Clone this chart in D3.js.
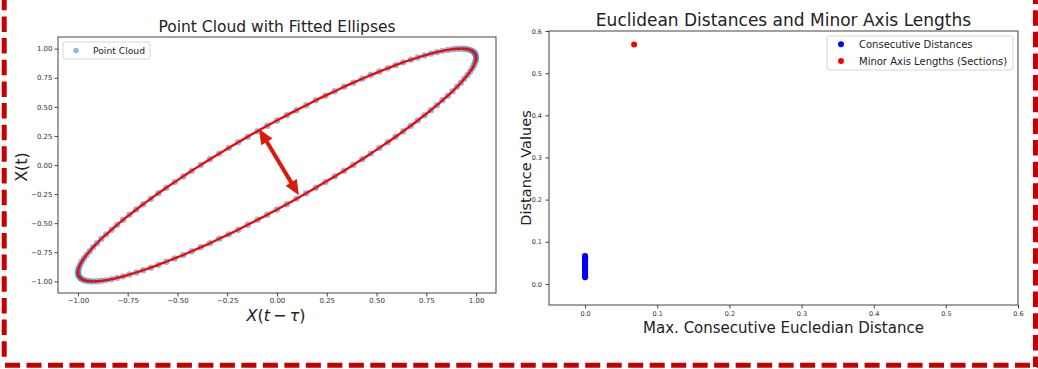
<!DOCTYPE html>
<html><head><meta charset="utf-8">
<script src="https://cdn.jsdelivr.net/npm/d3@7"></script>
<style>
html,body{margin:0;padding:0;background:#fff;}
svg{display:block;font-family:"DejaVu Sans",sans-serif;}
</style></head><body>
<svg id="c" width="1038" height="369"></svg>
<script>
// ---- data: left panel (delay embedding of the signal) ----
const signal = [
  0.000, 0.049, 0.098, 0.147, 0.195, 0.243, 0.290, 0.337, 0.383, 0.428, 0.471, 0.514, 0.556, 0.596, 0.634, 0.672,
  0.707, 0.741, 0.773, 0.803, 0.831, 0.858, 0.882, 0.904, 0.924, 0.941, 0.957, 0.970, 0.981, 0.989, 0.995, 0.999,
  1.000, 0.999, 0.995, 0.989, 0.981, 0.970, 0.957, 0.941, 0.924, 0.904, 0.882, 0.858, 0.831, 0.803, 0.773, 0.741,
  0.707, 0.672, 0.634, 0.596, 0.556, 0.514, 0.471, 0.428, 0.383, 0.337, 0.290, 0.243, 0.195, 0.147, 0.098, 0.049,
  0.000, -0.049, -0.098, -0.147, -0.195, -0.243, -0.290, -0.337, -0.383, -0.428, -0.471, -0.514, -0.556, -0.596, -0.634, -0.672,
  -0.707, -0.741, -0.773, -0.803, -0.831, -0.858, -0.882, -0.904, -0.924, -0.941, -0.957, -0.970, -0.981, -0.989, -0.995, -0.999,
  -1.000, -0.999, -0.995, -0.989, -0.981, -0.970, -0.957, -0.941, -0.924, -0.904, -0.882, -0.858, -0.831, -0.803, -0.773, -0.741,
  -0.707, -0.672, -0.634, -0.596, -0.556, -0.514, -0.471, -0.428, -0.383, -0.337, -0.290, -0.243, -0.195, -0.147, -0.098, -0.049,
  0.000, 0.049, 0.098, 0.147, 0.195, 0.243, 0.290, 0.337
];
const lag = 8;
const leftTicks = [-1.00, -0.75, -0.50, -0.25, 0.00, 0.25, 0.50, 0.75, 1.00];
const arrowFrom = [-0.09, 0.31];
const arrowTo = [0.11, -0.26];
const leftLegend = ["Point Cloud"];

// ---- data: right panel ----
const consecutiveX = 0.0;
const consecutiveDistances = [0.016, 0.018, 0.021, 0.024, 0.026, 0.029, 0.032, 0.034, 0.037, 0.040, 0.042,
  0.045, 0.047, 0.050, 0.052, 0.055, 0.057, 0.059, 0.061, 0.063, 0.065, 0.066];
const minorAxisX = [0.068];
const minorAxisLengths = [0.568];
const rightTicks = [0.0, 0.1, 0.2, 0.3, 0.4, 0.5, 0.6];
const rightLegend = ["Consecutive Distances", "Minor Axis Lengths (Sections)"];

const svg = d3.select("#c");
const TXT = "#222";

// ---------------- LEFT PANEL ----------------
const L = {l: 58, r: 496, t: 37, b: 293};
const xL = d3.scaleLinear().domain([-1.1, 1.1]).range([L.l, L.r]);
const yL = d3.scaleLinear().domain([-1.1, 1.1]).range([L.b, L.t]);

const cloud = d3.range(signal.length - lag).map(i => [signal[i], signal[i + lag]]);

const gL = svg.append("g");
gL.append("g").selectAll("circle").data(cloud).join("circle")
  .attr("cx", d => xL(d[0])).attr("cy", d => yL(d[1])).attr("r", 3.2)
  .attr("fill", "#1f77b4").attr("fill-opacity", 0.5);

gL.append("path").datum(cloud)
  .attr("d", d3.line().x(d => xL(d[0])).y(d => yL(d[1])).curve(d3.curveCatmullRomClosed))
  .attr("fill", "none").attr("stroke", "#ff0000").attr("stroke-width", 2.3);

// arrow
(function(){
  const p1 = [xL(arrowFrom[0]), yL(arrowFrom[1])], p2 = [xL(arrowTo[0]), yL(arrowTo[1])];
  const dx = p2[0]-p1[0], dy = p2[1]-p1[1], len = Math.hypot(dx, dy);
  const u = [dx/len, dy/len], n = [-u[1], u[0]];
  const HL = 15, HW = 6.5, col = "#dc1a0c";
  gL.append("line")
    .attr("x1", p1[0] + u[0]*(HL-2)).attr("y1", p1[1] + u[1]*(HL-2))
    .attr("x2", p2[0] - u[0]*(HL-2)).attr("y2", p2[1] - u[1]*(HL-2))
    .attr("stroke", col).attr("stroke-width", 4);
  const head = (tip, dir) => {
    const bx = tip[0] - dir[0]*HL, by = tip[1] - dir[1]*HL;
    return [[tip[0], tip[1]], [bx + n[0]*HW, by + n[1]*HW], [bx - n[0]*HW, by - n[1]*HW]];
  };
  [head(p2, u), head(p1, [-u[0], -u[1]])].forEach(pts => {
    gL.append("polygon").attr("points", pts.map(p => p.join(",")).join(" ")).attr("fill", col);
  });
})();

gL.append("rect").attr("x", L.l).attr("y", L.t).attr("width", L.r - L.l).attr("height", L.b - L.t)
  .attr("fill", "none").attr("stroke", "#444").attr("stroke-width", 1);

const axXL = gL.append("g").attr("transform", `translate(0,${L.b})`)
  .call(d3.axisBottom(xL).tickValues(leftTicks).tickSize(3.5).tickPadding(2).tickFormat(d3.format(".2f")));
const axYL = gL.append("g").attr("transform", `translate(${L.l},0)`)
  .call(d3.axisLeft(yL).tickValues(leftTicks).tickSize(3.5).tickPadding(2).tickFormat(d3.format(".2f")));
[axXL, axYL].forEach(a => {
  a.select(".domain").remove();
  a.selectAll("line").attr("stroke", "#444");
  a.selectAll("text").attr("fill", "#333").style("font-size", "7px").style("font-family", "DejaVu Sans");
});

gL.append("text").attr("x", (L.l + L.r)/2).attr("y", 32).attr("text-anchor", "middle")
  .style("font-size", "15.5px").attr("fill", TXT).text("Point Cloud with Fitted Ellipses");
const xlab = gL.append("text").attr("x", (L.l + L.r)/2 - 1).attr("y", 321).attr("text-anchor", "middle")
  .style("font-size", "16px").attr("fill", TXT);
xlab.append("tspan").style("font-style", "italic").text("X");
xlab.append("tspan").text("(");
xlab.append("tspan").style("font-style", "italic").text("t");
xlab.append("tspan").text("\u2009\u2212\u2009");
xlab.append("tspan").style("font-style", "italic").text("\u03c4");
xlab.append("tspan").text(")");
gL.append("text").attr("transform", `translate(27,${(L.t + L.b)/2 + 2}) rotate(-90)`).attr("text-anchor", "middle")
  .style("font-size", "16px").attr("fill", TXT).text("X(t)");

// legend left
const lgL = gL.append("g");
lgL.append("rect").attr("x", 63).attr("y", 42).attr("width", 87).attr("height", 17).attr("rx", 2)
  .attr("fill", "#fff").attr("fill-opacity", 0.8).attr("stroke", "#d6d6d6");
lgL.append("circle").attr("cx", 76).attr("cy", 50.5).attr("r", 2.8).attr("fill", "#1f77b4").attr("fill-opacity", 0.5);
lgL.append("text").attr("x", 93).attr("y", 50.5).attr("dy", "0.35em").style("font-size", "9.2px").attr("fill", TXT).text(leftLegend[0]);

// ---------------- RIGHT PANEL ----------------
const R = {l: 549, r: 1018, t: 31, b: 305};
const xR = d3.scaleLinear().domain([-0.05, 0.6]).range([R.l, R.r]);
const yR = d3.scaleLinear().domain([-0.05, 0.6]).range([R.b, R.t]);
const gR = svg.append("g");

gR.append("g").selectAll("circle").data(consecutiveDistances).join("circle")
  .attr("cx", xR(consecutiveX)).attr("cy", d => yR(d)).attr("r", 3).attr("fill", "#0000ff");
gR.append("g").selectAll("circle").data(minorAxisLengths).join("circle")
  .attr("cx", (d, i) => xR(minorAxisX[i])).attr("cy", d => yR(d)).attr("r", 3).attr("fill", "#ff0000");

gR.append("rect").attr("x", R.l).attr("y", R.t).attr("width", R.r - R.l).attr("height", R.b - R.t)
  .attr("fill", "none").attr("stroke", "#444").attr("stroke-width", 1);

const axXR = gR.append("g").attr("transform", `translate(0,${R.b})`)
  .call(d3.axisBottom(xR).tickValues(rightTicks).tickSize(3.5).tickPadding(3).tickFormat(d3.format(".1f")));
const axYR = gR.append("g").attr("transform", `translate(${R.l},0)`)
  .call(d3.axisLeft(yR).tickValues(rightTicks).tickSize(3.5).tickPadding(3.5).tickFormat(d3.format(".1f")));
[axXR, axYR].forEach(a => {
  a.select(".domain").remove();
  a.selectAll("line").attr("stroke", "#444");
  a.selectAll("text").attr("fill", "#333").style("font-size", "6.5px").style("font-family", "DejaVu Sans");
});

gR.append("text").attr("x", (R.l + R.r)/2).attr("y", 26).attr("text-anchor", "middle")
  .style("font-size", "17px").attr("fill", TXT).text("Euclidean Distances and Minor Axis Lengths");
gR.append("text").attr("x", (R.l + R.r)/2).attr("y", 333).attr("text-anchor", "middle")
  .style("font-size", "15px").attr("fill", TXT).text("Max. Consecutive Eucledian Distance");
gR.append("text").attr("transform", `translate(531,${(R.t + R.b)/2}) rotate(-90)`).attr("text-anchor", "middle")
  .style("font-size", "14.5px").attr("fill", TXT).text("Distance Values");

// legend right
const lgR = gR.append("g");
lgR.append("rect").attr("x", 827).attr("y", 36).attr("width", 186).attr("height", 34).attr("rx", 2)
  .attr("fill", "#fff").attr("fill-opacity", 0.8).attr("stroke", "#d6d6d6");
const legCols = ["#0000ff", "#ff0000"];
rightLegend.forEach((t, i) => {
  const cy = 44.3 + i * 16.7;
  lgR.append("circle").attr("cx", 841).attr("cy", cy).attr("r", 3).attr("fill", legCols[i]);
  lgR.append("text").attr("x", 859).attr("y", cy).attr("dy", "0.35em").style("font-size", "10px").attr("fill", TXT).text(t);
});

// ---------------- dashed frame ----------------
const frame = svg.append("g").attr("fill", "none").attr("stroke", "#c40000").attr("stroke-width", 5);
frame.append("path").attr("d", "M4.2,-5.2 L4.2,362").attr("stroke-dasharray", "15.5 6.15");
frame.append("path").attr("d", "M5,365.2 L1040,365.2").attr("stroke-dasharray", "15 6.49");
frame.append("path").attr("d", "M1035.7,-11.5 L1035.7,367").attr("stroke-width", 5.5).attr("stroke-dasharray", "15.5 6.15");
</script>
</body></html>
